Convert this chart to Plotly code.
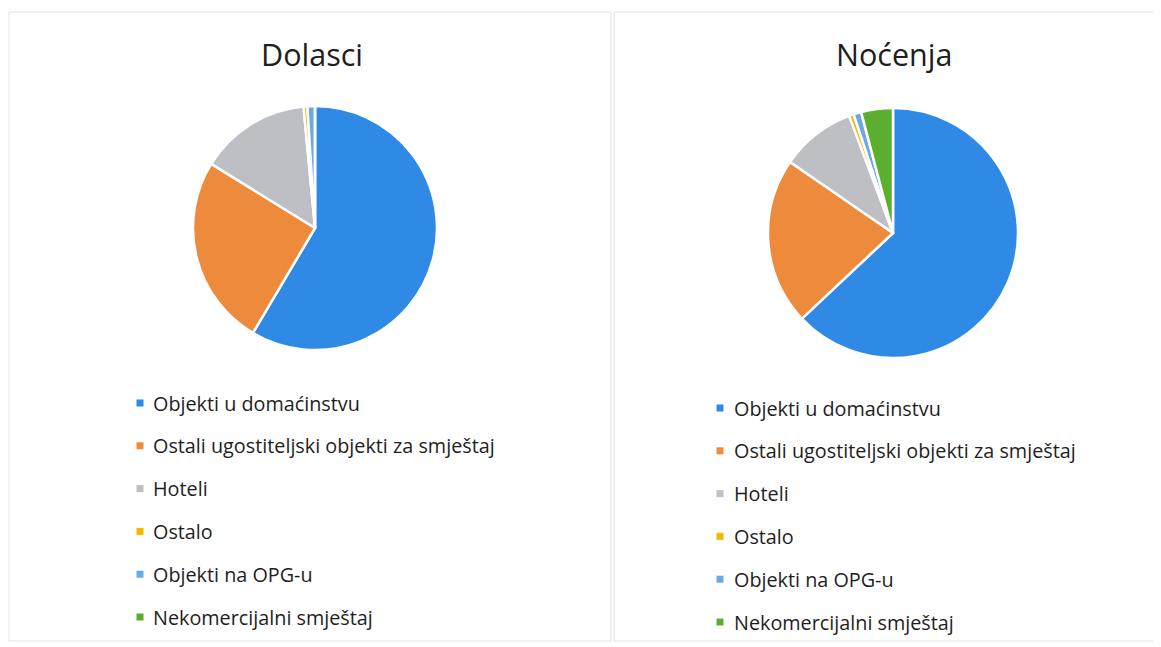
import plotly.graph_objects as go

labels = ["Objekti u domaćinstvu", "Ostali ugostiteljski objekti za smještaj", "Hoteli",
          "Ostalo", "Objekti na OPG-u", "Nekomercijalni smještaj"]
dolasci = [58.5, 25.3, 14.7, 0.5, 1.0, 0.0]
nocenja = [63.0, 21.6, 9.7, 0.6, 1.0, 4.1]
titles = ["Dolasci", "Noćenja"]
colors = ["#2F8AE6", "#EE8A3C", "#BDBFC4", "#F5B800", "#6AAAE0", "#5BAE2E"]

OFF = 8  # page body margin
W, H = 1161 - OFF, 647 - OFF
FONT = "'Open Sans', sans-serif"

def fx(x):
    return (x - OFF) / W

def fy(y):
    return 1 - (y - OFF) / H

def px_dom(x0, x1, y0, y1):
    return dict(x=[fx(x0), fx(x1)], y=[fy(y1), fy(y0)])

fig = go.Figure()
pies = [(dolasci, px_dom(193, 437, 106, 350)), (nocenja, px_dom(768, 1018, 108, 358))]
for vals, dom in pies:
    fig.add_trace(go.Pie(
        labels=labels, values=vals, sort=False, direction="clockwise", rotation=0,
        marker=dict(colors=colors, line=dict(color="white", width=2.5)),
        textinfo="none", hoverinfo="label+percent", domain=dom, showlegend=False,
    ))

shapes = []
annotations = []
panels = [(9, 611, 12, 641), (614, 1165, 12, 641)]
for x0, x1, y0, y1 in panels:
    shapes.append(dict(type="rect", xref="paper", yref="paper",
                       x0=fx(x0), x1=fx(x1), y0=fy(y1), y1=fy(y0),
                       line=dict(color="#E2E2E2", width=1), fillcolor="rgba(0,0,0,0)"))

title_pos = [(312, 54), (894, 54)]
for t, (cx, cy) in zip(titles, title_pos):
    annotations.append(dict(text=t, x=fx(cx), y=fy(cy), xref="paper", yref="paper",
                            showarrow=False, xanchor="center", yanchor="middle",
                            font=dict(family=FONT, size=30.5, color="#1E1E1E")))

legend_cfg = [(140, 151, 403), (720, 732, 408)]
for mx, tx, y0 in legend_cfg:
    for i, (lab, col) in enumerate(zip(labels, colors)):
        yy = y0 + i * 42.8
        shapes.append(dict(type="rect", xref="paper", yref="paper",
                           x0=fx(mx - 3.5), x1=fx(mx + 3.5),
                           y0=fy(yy + 3.5), y1=fy(yy - 3.5),
                           line=dict(width=0), fillcolor=col))
        annotations.append(dict(text=lab, x=fx(tx), y=fy(yy), xref="paper", yref="paper",
                                showarrow=False, xanchor="left", yanchor="middle",
                                font=dict(family=FONT, size=19.8, color="#1E1E1E")))

fig.update_layout(width=W, height=H, margin=dict(l=0, r=0, t=0, b=0),
                  paper_bgcolor="white", plot_bgcolor="white",
                  shapes=shapes, annotations=annotations, showlegend=False)

fig.write_html("out.html")
